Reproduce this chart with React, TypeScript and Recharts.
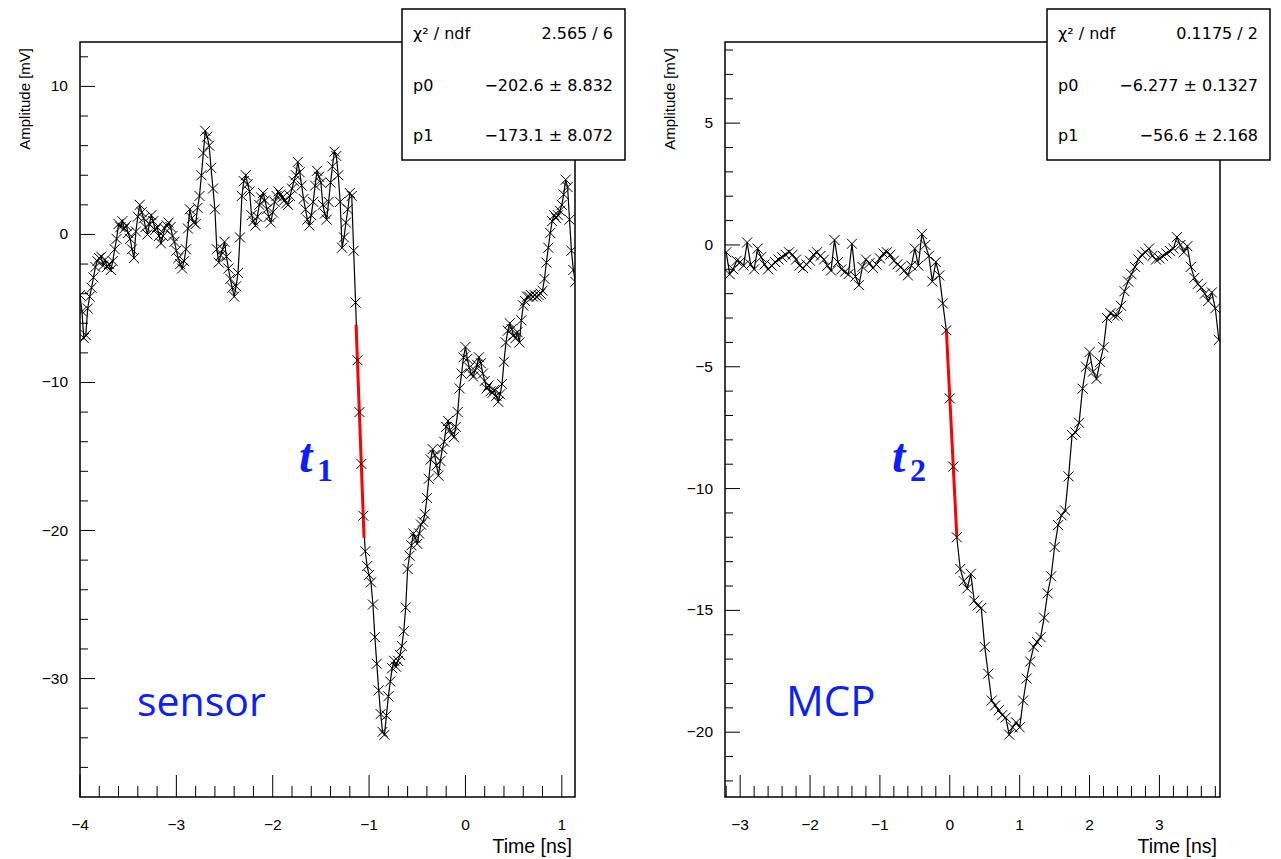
import React from "react";
import { LineChart, Line, XAxis, YAxis, ReferenceArea } from "recharts";

// sensor waveform: one amplitude [mV] every SENSOR_DT ns starting at SENSOR_T0
const SENSOR_T0 = -4.0;
const SENSOR_DT = 0.02;
const SENSOR_V = [
  -4.1, -5.2, -7.0, -6.8, -5.0,
  -4.2, -3.6, -2.9, -2.2, -1.8,
  -1.6, -1.5, -2.1, -1.7, -2.2,
  -2.0, -2.4, -1.8, -1.0, -0.3,
  0.7, 0.5, 0.9, 0.4, 0.6,
  0.1, -0.3, -1.0, -1.6, 0.2,
  1.2, 2.0, 1.5, 1.1, 0.5,
  0.0, 0.7, 1.3, 0.9, 0.3,
  0.5, -0.1, -0.6, -0.1, 0.4,
  0.6, 0.8, 0.5, -0.1, -0.5,
  -1.1, -1.6, -2.0, -2.3, -1.8,
  -1.0, 0.4, 1.7, 1.1, 0.8,
  0.7, 1.8, 2.6, 4.0, 5.5,
  7.0, 6.6, 6.0, 4.5, 3.1,
  1.7, -1.0, -1.9, -1.4, -1.0,
  -0.5, -1.5, -2.3, -3.0, -3.6,
  -4.2, -3.5, -2.6, -0.2, 2.6,
  3.6, 4.0, 3.4, 2.9, 1.3,
  0.9, 0.6, 1.2, 2.0, 2.5,
  2.8, 2.3, 1.7, 1.2, 0.8,
  1.5, 2.2, 2.6, 2.9, 2.7,
  2.5, 2.3, 2.1, 2.0, 2.6,
  3.1, 3.6, 4.0, 4.9, 4.2,
  3.3, 2.4, 1.7, 1.0, 0.6,
  1.3, 2.2, 3.3, 4.3, 3.9,
  3.5, 2.0, 1.4, 1.0, 2.2,
  3.5, 4.6, 5.6, 5.3, 4.0,
  2.2, -0.9, -0.2, 0.8, 1.7,
  2.8, 2.6, -1.1, -4.6, -8.5,
  -12.0, -15.5, -19.0, -21.4, -22.4,
  -23.0, -23.5, -25.0, -27.2, -29.0,
  -30.8, -32.4, -33.6, -33.8, -32.5,
  -31.2, -30.2, -29.3, -28.8, -29.2,
  -28.8, -28.4, -27.8, -26.8, -25.2,
  -22.6, -21.7, -21.0, -20.2, -20.5,
  -20.9, -20.2, -19.6, -19.4, -18.9,
  -17.8, -16.5, -15.2, -14.5, -14.9,
  -15.6, -16.3, -15.3, -14.5, -14.0,
  -13.0, -12.6, -13.2, -13.5, -13.7,
  -13.0, -12.0, -10.4, -9.4, -8.3,
  -7.6, -8.4, -9.0, -9.4, -9.6,
  -9.2, -8.8, -8.3, -8.7, -9.4,
  -9.9, -10.4, -10.2, -10.6, -10.7,
  -10.5, -10.9, -11.3, -10.8, -10.1,
  -8.6, -7.3, -6.5, -6.0, -6.4,
  -6.8, -7.0, -6.6, -7.3, -5.8,
  -4.8, -4.5, -4.2, -4.2, -4.1,
  -4.2, -4.1, -4.2, -4.1, -4.0,
  -3.8, -3.0, -1.9, -0.9, 0.1,
  0.9, 1.3, 1.1, 1.3, 1.6,
  2.0, 2.7, 3.7, 3.2, 1.0,
  -1.1, -2.4, -3.2,
];
const SENSOR_FIT_T = [-1.135, -1.052];
const SENSOR_FIT_V = [-6.1, -20.5];
const SENSOR_X_DOMAIN = [-4, 1.137];
const SENSOR_Y_DOMAIN = [-38, 13];
const SENSOR_X_MAJOR = [-4, -3, -2, -1, 0, 1];
const SENSOR_Y_MAJOR = [-30, -20, -10, 0, 10];
const SENSOR_STATS = [
  ["χ² / ndf", "2.565 / 6"],
  ["p0", "−202.6 ± 8.832"],
  ["p1", "−173.1 ± 8.072"],
];

// MCP waveform
const MCP_T0 = -3.2;
const MCP_DT = 0.05;
const MCP_V = [
  -0.3, -1.2, -1.0, -0.65, -0.7, -0.85, 0.1, -0.8, -1.0, -0.15,
  -0.5, -0.8, -1.0, -0.85, -0.7, -0.6, -0.5, -0.4, -0.3, -0.4,
  -0.6, -0.85, -0.95, -0.8, -0.65, -0.4, -0.3, -0.45, -0.6, -0.85,
  -1.05, 0.2, -0.7, -1.0, -1.1, -1.2, 0.05, -1.3, -1.65, -0.9,
  -0.6, -0.75, -0.95, -0.8, -0.55, -0.35, -0.3, -0.4, -0.65, -0.8,
  -0.9, -1.05, -1.25, -0.85, -0.15, -0.85, 0.45, 0.0, -0.45, -1.5,
  -0.7, -1.25, -2.4, -3.5, -6.3, -9.1, -12.0, -13.3, -13.8, -14.1,
  -13.5, -14.6, -14.8, -14.9, -16.5, -17.6, -18.7, -18.9, -19.1, -19.3,
  -19.4, -20.1, -19.8, -19.6, -19.8, -18.7, -17.8, -17.1, -16.5, -16.3,
  -16.1, -15.3, -14.3, -13.6, -12.4, -11.5, -11.1, -10.9, -9.5, -7.8,
  -7.7, -7.3, -5.9, -5.0, -4.4, -5.2, -5.5, -4.8, -4.2, -3.0,
  -2.8, -2.9, -2.9, -2.5, -1.9, -1.5, -1.2, -0.9, -0.6, -0.4,
  -0.3, -0.15, -0.45, -0.6, -0.55, -0.45, -0.35, -0.25, -0.15, 0.32,
  0.0, -0.3, -0.05, -0.9, -1.35, -1.6, -1.75, -2.0, -2.3, -1.95, -2.6, -3.9,
];
const MCP_FIT_T = [-0.05, 0.1];
const MCP_FIT_V = [-3.45, -11.94];
const MCP_X_DOMAIN = [-3.217, 3.867];
const MCP_Y_DOMAIN = [-22.66, 8.33];
const MCP_X_MAJOR = [-3, -2, -1, 0, 1, 2, 3];
const MCP_Y_MAJOR = [-20, -15, -10, -5, 0, 5];
const MCP_STATS = [
  ["χ² / ndf", "0.1175 / 2"],
  ["p0", "−6.277 ± 0.1327"],
  ["p1", "−56.6 ± 2.168"],
];

const SANS = "'Liberation Sans', Arial, sans-serif";
const BOX_FONT = "'DejaVu Sans', sans-serif";
const BLUE = "#0a1eff";

// minor ticks strictly inside the frame, majors also allowed on its edge
function tickList(lo: number, hi: number, step: number, majors: number[]) {
  const out: number[] = [];
  const start = Math.ceil(lo / step - 1e-9);
  for (let k = start; k * step <= hi + 1e-9; k++) {
    const v = Math.round(k * step * 1000) / 1000;
    const edge = v <= lo + 1e-6 || v >= hi - 1e-6;
    if (!edge || isMajor(v, majors)) out.push(v);
  }
  return out;
}

const fmt = (v: number) => (v < 0 ? "\u2212" + Math.abs(v) : String(v));
const isMajor = (v: number, majors: number[]) => majors.some((m) => Math.abs(m - v) < 1e-6);

const toPoints = (t0: number, dt: number, vals: number[]) =>
  vals.map((v, i) => ({ t: Math.round((t0 + i * dt) * 1000) / 1000, v }));
const pairPoints = (ts: number[], vs: number[]) => ts.map((t, i) => ({ t, v: vs[i] }));

const cross = (props: any) => {
  const { cx, cy, index } = props;
  if (cx == null || cy == null) return <g key={`n${index}`} />;
  const s = 5;
  return (
    <path
      key={`c${index}`}
      d={`M${cx - s},${cy - s}L${cx + s},${cy + s}M${cx - s},${cy + s}L${cx + s},${cy - s}`}
      stroke="#000"
      strokeWidth={1}
      fill="none"
    />
  );
};

interface PanelProps {
  left: number;
  width: number;
  axisW: number;
  rightM: number;
  data: { t: number; v: number }[];
  fit: { t: number; v: number }[];
  xDomain: number[];
  yDomain: number[];
  xMajor: number[];
  yMajor: number[];
  xStep: number;
  yStep: number;
}

function Panel(p: PanelProps) {
  const xTicks = tickList(p.xDomain[0], p.xDomain[1], p.xStep, p.xMajor);
  const yTicks = tickList(p.yDomain[0], p.yDomain[1], p.yStep, p.yMajor);

  const xTick = (props: any) => {
    const { x, y, payload } = props;
    const major = isMajor(payload.value, p.xMajor);
    return (
      <g key={`xt${payload.value}`}>
        <line x1={x} x2={x} y1={y} y2={y - (major ? 22 : 11)} stroke="#000" strokeWidth={1} />
        {major && (
          <text x={x} y={y + 33} textAnchor="middle" fontSize={15.5} fontFamily={SANS} fill="#000">
            {fmt(payload.value)}
          </text>
        )}
      </g>
    );
  };

  const yTick = (props: any) => {
    const { x, y, payload } = props;
    const major = isMajor(payload.value, p.yMajor);
    return (
      <g key={`yt${payload.value}`}>
        <line x1={x} x2={x + (major ? 15 : 8)} y1={y} y2={y} stroke="#000" strokeWidth={1} />
        {major && (
          <text x={x - 12} y={y + 5} textAnchor="end" fontSize={15.5} fontFamily={SANS} fill="#000">
            {fmt(payload.value)}
          </text>
        )}
      </g>
    );
  };

  const plotLeft = p.axisW;
  const plotRight = p.width - p.rightM;

  const xTitle = () => (
    <text x={plotRight - 3} y={853} textAnchor="end" fontSize={19.5} fontFamily={SANS} fill="#000">
      Time [ns]
    </text>
  );
  const yTitle = () => (
    <text
      transform={`translate(${plotLeft - 50},48) rotate(-90)`}
      textAnchor="end"
      fontSize={15}
      fontFamily={SANS}
      fill="#000"
    >
      Amplitude [mV]
    </text>
  );

  return (
    <div style={{ position: "absolute", left: p.left, top: 0 }}>
      <LineChart width={p.width} height={859} margin={{ top: 42, right: p.rightM, bottom: 0, left: 0 }}>
        <XAxis
          type="number"
          dataKey="t"
          domain={p.xDomain}
          allowDataOverflow
          ticks={xTicks}
          interval={0}
          tickSize={0}
          tickMargin={0}
          axisLine={false}
          tickLine={false}
          height={62}
          tick={xTick}
          label={xTitle}
        />
        <YAxis
          type="number"
          domain={p.yDomain}
          allowDataOverflow
          ticks={yTicks}
          interval={0}
          tickSize={0}
          tickMargin={0}
          axisLine={false}
          tickLine={false}
          width={p.axisW}
          tick={yTick}
          label={yTitle}
        />
        <ReferenceArea
          x1={p.xDomain[0]}
          x2={p.xDomain[1]}
          y1={p.yDomain[0]}
          y2={p.yDomain[1]}
          fill="none"
          stroke="#000"
          strokeWidth={1.5}
          ifOverflow="visible"
        />
        <Line data={p.data} dataKey="v" stroke="#000" strokeWidth={1.2} dot={false} activeDot={false} isAnimationActive={false} />
        <Line data={p.fit} dataKey="v" stroke="#ff0000" strokeWidth={3} dot={false} activeDot={false} isAnimationActive={false} />
        <Line data={p.data} dataKey="v" stroke="none" dot={cross} activeDot={false} isAnimationActive={false} />
      </LineChart>
    </div>
  );
}

function StatsBox({ x, rows }: { x: number; rows: string[][] }) {
  const w = 223;
  const baselines = [39, 91, 141];
  return (
    <g>
      <rect x={x} y={9} width={w} height={151} fill="#fff" stroke="#000" strokeWidth={1.5} />
      {rows.map((r, i) => (
        <g key={r[0]}>
          <text x={x + 11} y={baselines[i]} fontSize={16} fontFamily={BOX_FONT} fill="#000">
            {r[0]}
          </text>
          <text x={x + w - 12} y={baselines[i]} textAnchor="end" fontSize={16} fontFamily={BOX_FONT} fill="#000">
            {r[1]}
          </text>
        </g>
      ))}
    </g>
  );
}

export default function App() {
  const sensor = toPoints(SENSOR_T0, SENSOR_DT, SENSOR_V);
  const mcp = toPoints(MCP_T0, MCP_DT, MCP_V);
  return (
    <div style={{ position: "absolute", left: 0, top: 0, width: 1281, height: 859, background: "#fff", overflow: "hidden" }}>
      <Panel
        left={0}
        width={640}
        axisW={80}
        rightM={65}
        data={sensor}
        fit={pairPoints(SENSOR_FIT_T, SENSOR_FIT_V)}
        xDomain={SENSOR_X_DOMAIN}
        yDomain={SENSOR_Y_DOMAIN}
        xMajor={SENSOR_X_MAJOR}
        yMajor={SENSOR_Y_MAJOR}
        xStep={0.2}
        yStep={2}
      />
      <Panel
        left={640}
        width={641}
        axisW={85}
        rightM={61}
        data={mcp}
        fit={pairPoints(MCP_FIT_T, MCP_FIT_V)}
        xDomain={MCP_X_DOMAIN}
        yDomain={MCP_Y_DOMAIN}
        xMajor={MCP_X_MAJOR}
        yMajor={MCP_Y_MAJOR}
        xStep={0.2}
        yStep={1}
      />
      <svg width={1281} height={859} style={{ position: "absolute", left: 0, top: 0, pointerEvents: "none" }}>
        <StatsBox x={402} rows={SENSOR_STATS} />
        <StatsBox x={1047} rows={MCP_STATS} />
        <text x={137} y={716} fontSize={41} fontFamily="'Open Sans', sans-serif" fill={BLUE}>sensor</text>
        <text x={786} y={716} fontSize={42} fontFamily="'Open Sans', sans-serif" fill={BLUE}>MCP</text>
        <text x={299} y={472} fontSize={48} fontStyle="italic" fontWeight="bold" fontFamily="'Liberation Serif', serif" fill={BLUE}>t</text>
        <text x={317} y={481} fontSize={32} fontWeight="bold" fontFamily="'Liberation Serif', serif" fill={BLUE}>1</text>
        <text x={892} y={472} fontSize={48} fontStyle="italic" fontWeight="bold" fontFamily="'Liberation Serif', serif" fill={BLUE}>t</text>
        <text x={910} y={481} fontSize={32} fontWeight="bold" fontFamily="'Liberation Serif', serif" fill={BLUE}>2</text>
      </svg>
    </div>
  );
}
